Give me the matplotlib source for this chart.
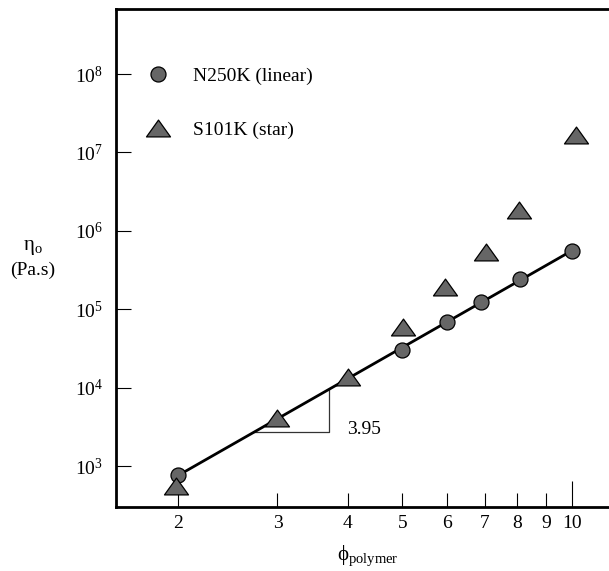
import numpy as np
import matplotlib
matplotlib.use("Agg")
import matplotlib.pyplot as plt
from matplotlib.ticker import FixedLocator, FixedFormatter, NullLocator, LogFormatterMathtext
from matplotlib.path import Path

plt.rcParams['font.family'] = ['Liberation Serif', 'DejaVu Serif']
plt.rcParams['mathtext.fontset'] = 'custom'
plt.rcParams['mathtext.rm'] = 'Liberation Serif'
plt.rcParams['mathtext.it'] = 'Liberation Serif:italic'
plt.rcParams['mathtext.bf'] = 'Liberation Serif:bold'

# data
phi_linear = [2.0, 5.0, 6.0, 6.9, 8.1, 10.0]
eta_linear = [760, 3.06e4, 6.8e4, 1.24e5, 2.4e5, 5.6e5]

phi_star = [1.98, 3.0, 4.0, 5.02, 5.95, 7.03, 8.06, 10.15]
eta_star = [560, 4.1e3, 1.36e4, 5.9e4, 1.95e5, 5.3e5, 1.82e6, 1.67e7]

fit_phi = [2.0, 10.0]
fit_eta = [760, 5.6e5]
slope_label = "3.95"
slope_x_right = 3.71
slope_y_base = 2.69e3

x_ticks = [2, 3, 4, 5, 6, 7, 8, 9]
x_tick_labels = ["2", "3", "4", "5", "6", "7", "8", "9"]
x_major = [10]
x_major_labels = ["10"]
y_ticks = [1e3, 1e4, 1e5, 1e6, 1e7, 1e8]

fill = "#666666"
tri_verts = [(-1, -0.7), (1, -0.7), (0, 0.7), (-1, -0.7)]
tri_marker = Path(tri_verts, [Path.MOVETO, Path.LINETO, Path.LINETO, Path.CLOSEPOLY])


def fit_at(x):
    lx = np.log10(fit_phi)
    ly = np.log10(fit_eta)
    s = (ly[1] - ly[0]) / (lx[1] - lx[0])
    return 10 ** (ly[0] + s * (np.log10(x) - lx[0]))


def fit_inv(y):
    lx = np.log10(fit_phi)
    ly = np.log10(fit_eta)
    s = (ly[1] - ly[0]) / (lx[1] - lx[0])
    return 10 ** (lx[0] + (np.log10(y) - ly[0]) / s)


fig = plt.figure(figsize=(6.09, 5.71), dpi=100)
ax = fig.add_axes([0.190, 0.1126, 0.81, 0.8716])
ax.set_xscale('log')
ax.set_yscale('log')
ax.set_xlim(1.549, 11.63)
ax.set_ylim(303, 6.75e8)

ax.plot(fit_phi, fit_eta, color='black', lw=2.0, zorder=2)

# slope triangle
x_left = fit_inv(slope_y_base)
ax.plot([x_left, slope_x_right, slope_x_right],
        [slope_y_base, slope_y_base, fit_at(slope_x_right)],
        color='#333333', lw=0.9, zorder=1)
ax.annotate(slope_label, xy=(slope_x_right, slope_y_base), xytext=(12.7, 2),
            textcoords='offset points', ha='left', va='center', fontsize=14)

h1, = ax.plot(phi_linear, eta_linear, 'o', ms=10.8, mfc=fill, mec='black',
              mew=0.9, ls='none', zorder=3, label='N250K (linear)')
h2, = ax.plot(phi_star, eta_star, marker=tri_marker, ms=17.3, mfc=fill,
              mec='black', mew=0.9, ls='none', zorder=4, label='S101K (star)')

leg = ax.legend(handles=[h1, h2], loc='upper left',
                bbox_to_anchor=(142.2 / 609, 1 - 67.0 / 571),
                bbox_transform=fig.transFigure, frameon=False, fontsize=14,
                handlelength=1.6, handletextpad=1.03, labelspacing=1.9,
                borderpad=0, borderaxespad=0, numpoints=1)

# axes styling
ax.spines['right'].set_visible(False)
for sp in ['left', 'bottom', 'top']:
    ax.spines[sp].set_linewidth(2.0)

ax.xaxis.set_major_locator(FixedLocator(x_major))
ax.xaxis.set_major_formatter(FixedFormatter(x_major_labels))
ax.xaxis.set_minor_locator(FixedLocator(x_ticks))
ax.xaxis.set_minor_formatter(FixedFormatter(x_tick_labels))
ax.tick_params(axis='x', which='major', direction='in', length=19, width=0.8,
               labelsize=14, pad=6, top=False)
ax.tick_params(axis='x', which='minor', direction='in', length=10, width=0.8,
               labelsize=14, pad=6, top=False)

ax.yaxis.set_major_locator(FixedLocator(y_ticks))
ax.yaxis.set_major_formatter(LogFormatterMathtext())
ax.yaxis.set_minor_locator(NullLocator())
ax.tick_params(axis='y', which='major', direction='in', length=10.8, width=0.8,
               labelsize=14, pad=9, right=False)

fig.text(33 / 609, 1 - 248 / 571, "η$_{\\mathrm{o}}$", ha='center', va='center', fontsize=15)
fig.text(33 / 609, 1 - 270 / 571, "(Pa.s)", ha='center', va='center', fontsize=14)
fig.text(368 / 609, 1 - 556 / 571, "\u03d5$_{\\mathrm{polymer}}$", ha='center',
         va='center', fontsize=15)

fig.savefig("out.png", dpi=100)
